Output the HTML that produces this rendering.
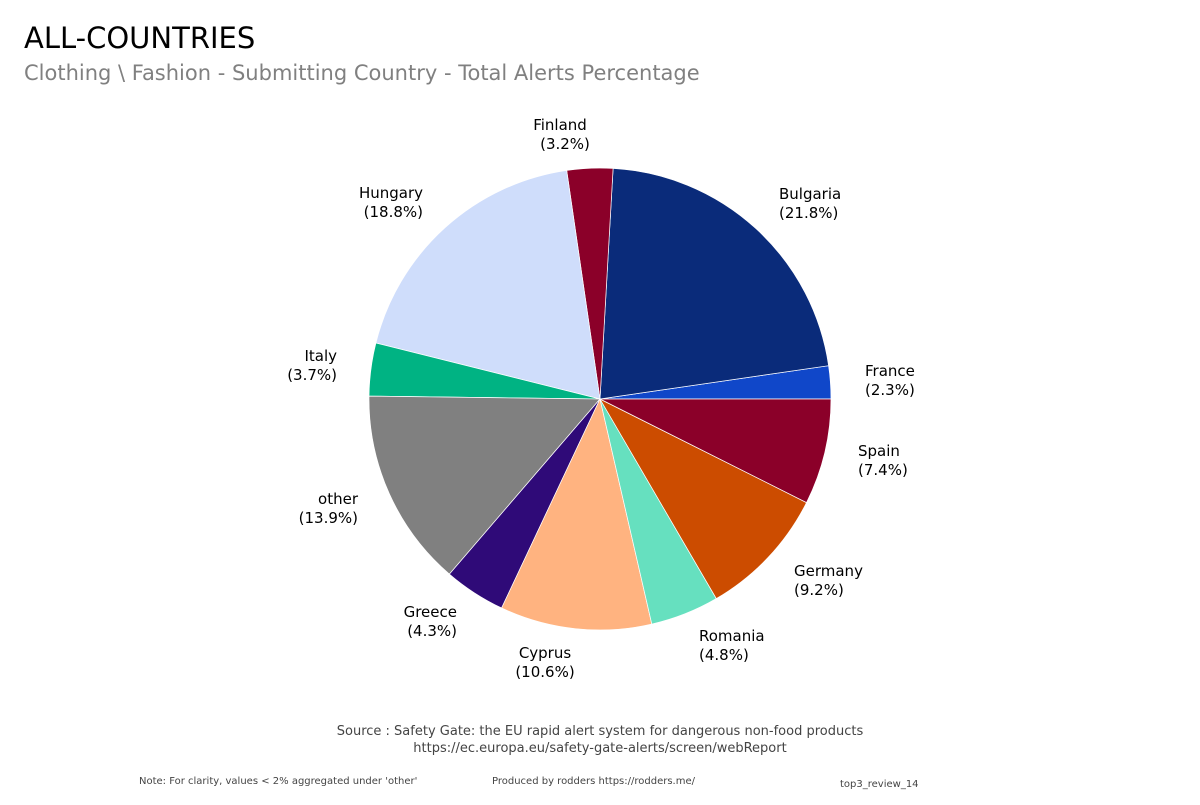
<!DOCTYPE html>
<html><head><meta charset="utf-8"><style>
html,body{margin:0;padding:0;background:#fff;}
body{width:1200px;height:800px;overflow:hidden;}
svg text{font-family:"DejaVu Sans","Liberation Sans",sans-serif;}
</style></head><body>
<svg width="1200" height="800" viewBox="0 0 1200 800" xmlns="http://www.w3.org/2000/svg">
<text x="24" y="48" font-size="29" fill="#000" font-family="Liberation Sans,sans-serif">ALL-COUNTRIES</text>
<text x="24" y="80" font-size="21" fill="#808080">Clothing \ Fashion - Submitting Country - Total Alerts Percentage</text>
<g stroke="#fff" stroke-width="0.7">
<path d="M600,399 L831,399 A231,231 0 0 0 828.6,365.7 Z" fill="#1047c9"/>
<path d="M600,399 L828.6,365.7 A231,231 0 0 0 613.1,168.4 Z" fill="#0a2b7a"/>
<path d="M600,399 L613.1,168.4 A231,231 0 0 0 566.7,170.4 Z" fill="#8b0029"/>
<path d="M600,399 L566.7,170.4 A231,231 0 0 0 375.9,343.0 Z" fill="#cfddfb"/>
<path d="M600,399 L375.9,343.0 A231,231 0 0 0 369.0,396.1 Z" fill="#00b383"/>
<path d="M600,399 L369.0,396.1 A231,231 0 0 0 449.4,574.1 Z" fill="#808080"/>
<path d="M600,399 L449.4,574.1 A231,231 0 0 0 501.6,608.0 Z" fill="#2f0a78"/>
<path d="M600,399 L501.6,608.0 A231,231 0 0 0 651.8,624.1 Z" fill="#ffb380"/>
<path d="M600,399 L651.8,624.1 A231,231 0 0 0 716.3,598.6 Z" fill="#66e0bf"/>
<path d="M600,399 L716.3,598.6 A231,231 0 0 0 806.5,502.6 Z" fill="#cc4c00"/>
<path d="M600,399 L806.5,502.6 A231,231 0 0 0 831,399 Z" fill="#8b0029"/>
</g>
<g font-size="15" fill="#000">
<text x="560" y="130" text-anchor="middle">Finland</text><text x="565" y="149" text-anchor="middle">(3.2%)</text>
<text x="779" y="199">Bulgaria</text><text x="779" y="218">(21.8%)</text>
<text x="423" y="198" text-anchor="end">Hungary</text><text x="423" y="217" text-anchor="end">(18.8%)</text>
<text x="865" y="376">France</text><text x="865" y="395">(2.3%)</text>
<text x="337" y="361" text-anchor="end">Italy</text><text x="337" y="380" text-anchor="end">(3.7%)</text>
<text x="858" y="456">Spain</text><text x="858" y="475">(7.4%)</text>
<text x="358" y="504" text-anchor="end">other</text><text x="358" y="523" text-anchor="end">(13.9%)</text>
<text x="794" y="576">Germany</text><text x="794" y="595">(9.2%)</text>
<text x="457" y="617" text-anchor="end">Greece</text><text x="457" y="636" text-anchor="end">(4.3%)</text>
<text x="699" y="641">Romania</text><text x="699" y="660">(4.8%)</text>
<text x="545" y="658" text-anchor="middle">Cyprus</text><text x="545" y="677" text-anchor="middle">(10.6%)</text>
</g>
<g font-size="13" fill="#444" text-anchor="middle">
<text x="600" y="735">Source : Safety Gate: the EU rapid alert system for dangerous non-food products</text>
<text x="600" y="752">https://ec.europa.eu/safety-gate-alerts/screen/webReport</text>
</g>
<g font-size="10" fill="#444">
<text x="139" y="784">Note: For clarity, values &lt; 2% aggregated under 'other'</text>
<text x="492" y="784">Produced by rodders https://rodders.me/</text>
<text x="840" y="787">top3_review_14</text>
</g>
</svg>
</body></html>
